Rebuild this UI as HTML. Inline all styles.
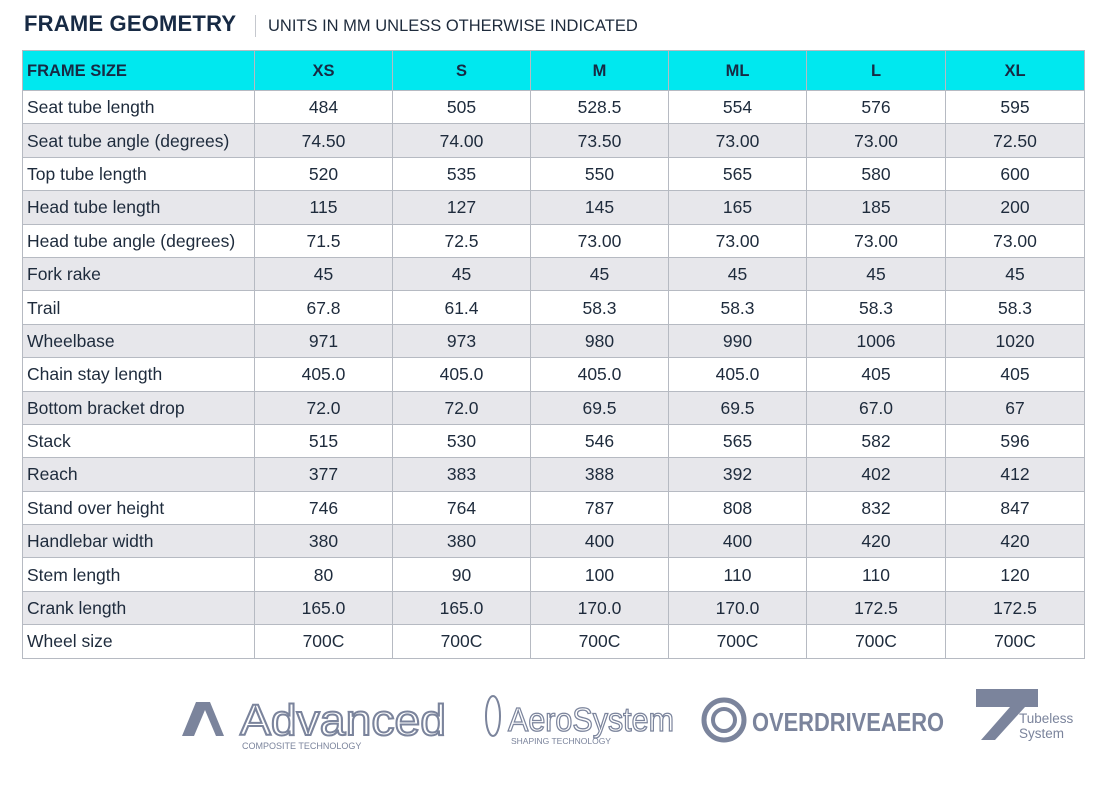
<!DOCTYPE html>
<html><head><meta charset="utf-8"><style>
body{margin:0;width:1109px;height:809px;background:#fff;font-family:"Liberation Sans",sans-serif;color:#1e2b3c;position:relative;overflow:hidden}
.title{position:absolute;left:24px;top:11px;font-size:22px;font-weight:bold;color:#172a44;letter-spacing:0.2px}
.sep{position:absolute;left:255px;top:15px;width:1px;height:22px;background:#c5c8ce}
.sub{position:absolute;left:268px;top:17px;font-size:16.5px;color:#1e2b3c}
table{position:absolute;left:22px;top:50px;width:1062px;border-collapse:collapse;table-layout:fixed}
td{border:1.5px solid #b6bac2;font-size:17.5px;text-align:center;padding:0;line-height:20px;white-space:nowrap}
tr{height:33.4px}
td:first-child{text-align:left;padding-left:4px}
tr.h{height:40px}
tr.h td{background:#00e8ef;font-weight:bold;color:#172a44;font-size:16.5px}
tr:nth-child(odd):not(.h) td{background:#e7e7eb}
.logos{position:absolute;left:0;top:680px;width:1109px;height:80px;color:#7b849c}
</style></head><body>
<div class="title">FRAME GEOMETRY</div><div class="sep"></div>
<div class="sub">UNITS IN MM UNLESS OTHERWISE INDICATED</div>
<table>
<colgroup><col style="width:232px"><col style="width:138px"><col style="width:138px"><col style="width:138px"><col style="width:138px"><col style="width:139px"><col style="width:139px"></colgroup>
<tr class="h"><td>FRAME SIZE</td><td>XS</td><td>S</td><td>M</td><td>ML</td><td>L</td><td>XL</td></tr>
<tr><td>Seat tube length</td><td>484</td><td>505</td><td>528.5</td><td>554</td><td>576</td><td>595</td></tr>
<tr><td>Seat tube angle (degrees)</td><td>74.50</td><td>74.00</td><td>73.50</td><td>73.00</td><td>73.00</td><td>72.50</td></tr>
<tr><td>Top tube length</td><td>520</td><td>535</td><td>550</td><td>565</td><td>580</td><td>600</td></tr>
<tr><td>Head tube length</td><td>115</td><td>127</td><td>145</td><td>165</td><td>185</td><td>200</td></tr>
<tr><td>Head tube angle (degrees)</td><td>71.5</td><td>72.5</td><td>73.00</td><td>73.00</td><td>73.00</td><td>73.00</td></tr>
<tr><td>Fork rake</td><td>45</td><td>45</td><td>45</td><td>45</td><td>45</td><td>45</td></tr>
<tr><td>Trail</td><td>67.8</td><td>61.4</td><td>58.3</td><td>58.3</td><td>58.3</td><td>58.3</td></tr>
<tr><td>Wheelbase</td><td>971</td><td>973</td><td>980</td><td>990</td><td>1006</td><td>1020</td></tr>
<tr><td>Chain stay length</td><td>405.0</td><td>405.0</td><td>405.0</td><td>405.0</td><td>405</td><td>405</td></tr>
<tr><td>Bottom bracket drop</td><td>72.0</td><td>72.0</td><td>69.5</td><td>69.5</td><td>67.0</td><td>67</td></tr>
<tr><td>Stack</td><td>515</td><td>530</td><td>546</td><td>565</td><td>582</td><td>596</td></tr>
<tr><td>Reach</td><td>377</td><td>383</td><td>388</td><td>392</td><td>402</td><td>412</td></tr>
<tr><td>Stand over height</td><td>746</td><td>764</td><td>787</td><td>808</td><td>832</td><td>847</td></tr>
<tr><td>Handlebar width</td><td>380</td><td>380</td><td>400</td><td>400</td><td>420</td><td>420</td></tr>
<tr><td>Stem length</td><td>80</td><td>90</td><td>100</td><td>110</td><td>110</td><td>120</td></tr>
<tr><td>Crank length</td><td>165.0</td><td>165.0</td><td>170.0</td><td>170.0</td><td>172.5</td><td>172.5</td></tr>
<tr><td>Wheel size</td><td>700C</td><td>700C</td><td>700C</td><td>700C</td><td>700C</td><td>700C</td></tr>
</table>
<svg class="logos" width="1109" height="80" viewBox="0 680 1109 80" xmlns="http://www.w3.org/2000/svg">
<g fill="#7b849c">
<polygon points="182,736 196,702 210,702 224,736 216,736 205,710 194,736"/>
<text x="240" y="735" font-family="Liberation Sans" font-size="44" textLength="206" lengthAdjust="spacingAndGlyphs" fill="none" stroke="#7b849c" stroke-width="2">Advanced</text>
<text x="242" y="749" font-family="Liberation Sans" font-size="9">COMPOSITE TECHNOLOGY</text>
<ellipse cx="493" cy="716" rx="7" ry="20" fill="none" stroke="#7b849c" stroke-width="2"/>
<text x="508" y="731" font-family="Liberation Sans" font-size="33" textLength="166" lengthAdjust="spacingAndGlyphs" fill="none" stroke="#7b849c" stroke-width="1.3">AeroSystem</text>
<text x="511" y="744" font-family="Liberation Sans" font-size="8.5">SHAPING TECHNOLOGY</text>
<circle cx="724" cy="720" r="20" fill="none" stroke="#7b849c" stroke-width="5"/>
<circle cx="724" cy="720" r="11" fill="none" stroke="#7b849c" stroke-width="4"/>
<text x="752" y="731" font-family="Liberation Sans" font-size="26" font-weight="bold" textLength="192" lengthAdjust="spacingAndGlyphs">OVERDRIVEAERO</text>
<polygon points="976,689 1038,689 1038,707 1025,707 995,740 981,740 1010,707 976,707"/>
<text x="1019" y="723" font-family="Liberation Sans" font-size="13.5">Tubeless</text>
<text x="1019" y="738" font-family="Liberation Sans" font-size="13.5">System</text>
</g>
</svg>
</body></html>
